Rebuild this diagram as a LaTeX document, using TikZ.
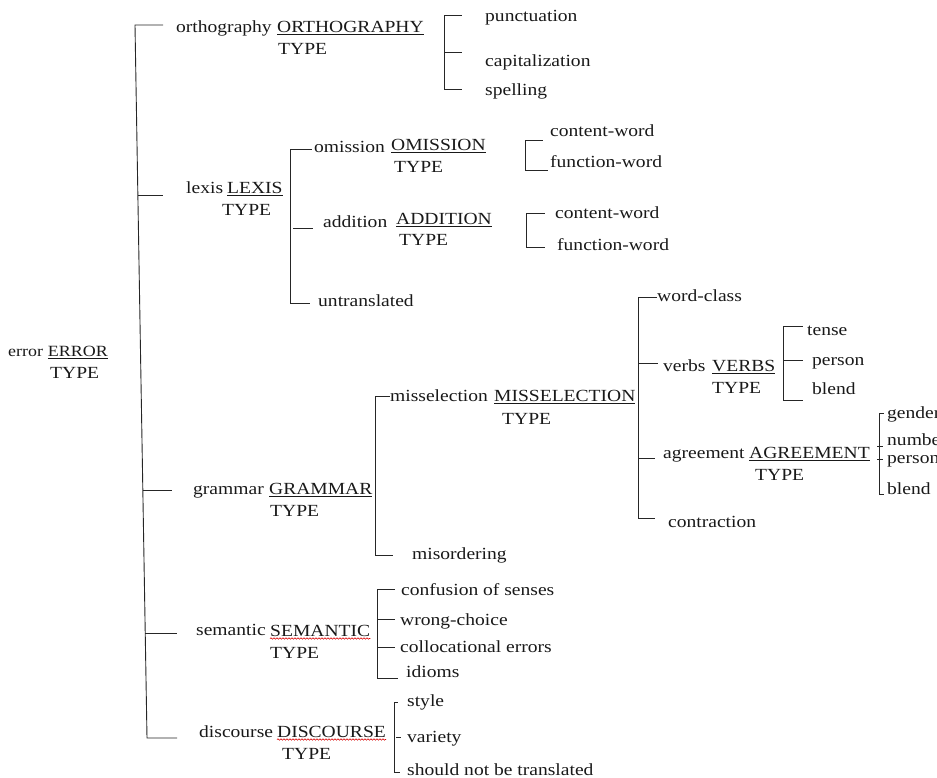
\documentclass[tikz,border=0pt]{standalone}
\usepackage{fontspec}
\setmainfont{Liberation Serif}[FakeStretch=1.15]
\usetikzlibrary{decorations.pathmorphing}
\newcommand\ulw[1]{\setbox0\hbox{#1}\rlap{\rule[-2.3pt]{\wd0}{0.8pt}}\box0}
\tikzset{
  lbl/.style={inner sep=0pt, anchor=base west, text=black!90, font=\fontsize{17}{22}\selectfont},
  small/.style={font=\fontsize{15.6}{20}\selectfont},
  ln/.style={line width=0.9pt, draw=black!85},
  wavy/.style={draw=red!85!black, line width=0.6pt, decorate,
    decoration={snake, segment length=3pt, amplitude=0.7pt}}
}
% name, x, ytop, ybottom, list of y/xstart/xend
\newcommand\bracket[5]{%
  \coordinate (#1T) at (#2,#3); \coordinate (#1B) at (#2,#4);
  \draw[ln] (#1T) -- (#1B);
  \foreach \yy/\xs/\xe [count=\k] in {#5} {%
    \coordinate (#1s\k) at (\xs,\yy); \coordinate (#1e\k) at (\xe,\yy);
    \draw[ln] (#1s\k) -- (#1e\k);}%
}
\begin{document}
\begin{tikzpicture}[x=1pt,y=-1pt]
\useasboundingbox (0,0) rectangle (937,777);
% ---- typed nodes ----
\node[lbl,small] (err)   at (8,356)   {error};
\node[lbl,small] (errU)  at ([xshift=4.5pt]err.base east) {\ulw{ERROR}};
\node[lbl] (errT)  at (50,378)  {TYPE};
\node[lbl] (orth)  at (176,32)  {orthography};
\node[lbl] (orthU) at (277,32)  {\ulw{ORTHOGRAPHY}};
\node[lbl] (orthT) at (278,54)  {TYPE};
\node[lbl] (lex)   at (186,193) {lexis};
\node[lbl] (lexU)  at (227,193) {\ulw{LEXIS}};
\node[lbl] (lexT)  at (222,215) {TYPE};
\node[lbl] (omi)   at (314,152) {omission};
\node[lbl] (omiU)  at (391,150) {\ulw{OMISSION}};
\node[lbl] (omiT)  at (394,172) {TYPE};
\node[lbl] (add)   at (323,227) {addition};
\node[lbl] (addU)  at (396,224) {\ulw{ADDITION}};
\node[lbl] (addT)  at (399,245) {TYPE};
\node[lbl] (gram)  at (193,494) {grammar};
\node[lbl] (gramU) at (269,494) {\ulw{GRAMMAR}};
\node[lbl] (gramT) at (270,516) {TYPE};
\node[lbl] (mis)   at (390,401) {misselection};
\node[lbl] (misU)  at (494,401) {\ulw{MISSELECTION}};
\node[lbl] (misT)  at (502,424) {TYPE};
\node[lbl] (vrb)   at (663,371) {verbs};
\node[lbl] (vrbU)  at (712,371) {\ulw{VERBS}};
\node[lbl] (vrbT)  at (712,393) {TYPE};
\node[lbl] (agr)   at (663,458) {agreement};
\node[lbl] (agrU)  at (749,458) {\ulw{AGREEMENT}};
\node[lbl] (agrT)  at (755,480) {TYPE};
\node[lbl] (sem)   at (196,635) {semantic};
\node[lbl] (semU)  at (270,636) {SEMANTIC};
\node[lbl] (semT)  at (270,658) {TYPE};
\node[lbl] (dis)   at (199,737) {discourse};
\node[lbl] (disU)  at (277,737) {DISCOURSE};
\node[lbl] (disT)  at (282,759) {TYPE};
\draw[wavy] ([yshift=-2.5pt]semU.base west) -- ([yshift=-2.5pt]semU.base east);
\draw[wavy] ([yshift=-2.5pt]disU.base west) -- ([yshift=-2.5pt]disU.base east);
% ---- leaves ----
\node[lbl] (pun) at (485,21)  {punctuation};
\node[lbl] (cap) at (485,66)  {capitalization};
\node[lbl] (spe) at (485,95)  {spelling};
\node[lbl] (omc) at (550,136) {content-word};
\node[lbl] (omf) at (550,167) {function-word};
\node[lbl] (adc) at (555,218) {content-word};
\node[lbl] (adf) at (557,250) {function-word};
\node[lbl] (unt) at (318,306) {untranslated};
\node[lbl] (mso) at (412,559) {misordering};
\node[lbl] (wcl) at (657,301) {word-class};
\node[lbl] (con) at (668,527) {contraction};
\node[lbl] (ten) at (807,335) {tense};
\node[lbl] (vpe) at (812,365) {person};
\node[lbl] (vbl) at (812,394) {blend};
\node[lbl] (gen) at (887,418) {gender};
\node[lbl] (num) at (887,445) {number};
\node[lbl] (ape) at (887,463) {person};
\node[lbl] (abl) at (887,494) {blend};
\node[lbl] (cos) at (401,595) {confusion of senses};
\node[lbl] (wch) at (400,625) {wrong-choice};
\node[lbl] (coe) at (400,652) {collocational errors};
\node[lbl] (idi) at (406,677) {idioms};
\node[lbl] (sty) at (407,706) {style};
\node[lbl] (var) at (407,742) {variety};
\node[lbl] (snt) at (407,775) {should not be translated};
% ---- main bracket (slightly slanted, as in the reference) ----
\coordinate (m0) at (135,25);   \coordinate (t0) at (163,25);
\coordinate (m1) at (137.9,195);\coordinate (t1) at (163,195);
\coordinate (m2) at (142.8,490);\coordinate (t2) at (172,490);
\coordinate (m3) at (145.2,633);\coordinate (t3) at (177,633);
\coordinate (m4) at (147,738);  \coordinate (t4) at (177,738);
\draw[ln] (t0) -- (m0) -- (m4) -- (t4);
\draw[ln] (m1) -- (t1);
\draw[ln] (m2) -- (t2);
\draw[ln] (m3) -- (t3);
% ---- sub brackets ----
\bracket{ob}{444}{15}{89}{15/444/462, 52/444/462, 89/444/462}
\bracket{lb}{290}{149}{303}{149/290/312, 228/293/313, 303/290/310}
\bracket{omb}{525}{140}{170}{140/525/543, 170/525/548}
\bracket{adb}{526}{213}{247}{213/526/545, 247/526/545}
\bracket{gb}{375}{396}{555}{396/375/390, 555/375/393}
\bracket{msb}{638}{297}{518}{297/638/657, 363/638/658, 458/638/655, 518/638/655}
\bracket{vb}{783}{326}{400}{326/783/803, 360/783/803, 400/783/803}
\bracket{ab}{879}{413}{494}{413/879/884, 446/877/883, 459/877/883, 494/879/884}
\bracket{sb}{377}{589}{678}{589/377/395, 619/377/395, 647/377/395, 678/377/398}
\bracket{db}{394}{702}{772}{702/394/398, 737/396/401, 772/394/400}
\end{tikzpicture}
\end{document}
